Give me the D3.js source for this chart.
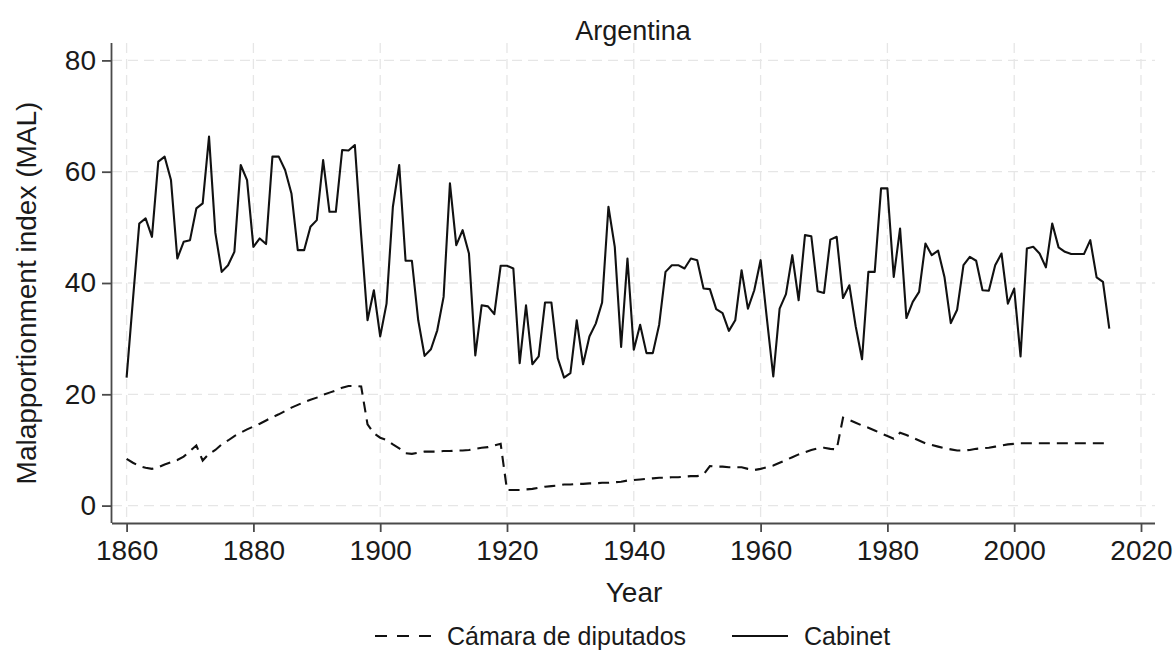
<!DOCTYPE html>
<html>
<head>
<meta charset="utf-8">
<script src="https://cdn.jsdelivr.net/npm/d3@7"></script>
<style>
  html, body { margin: 0; padding: 0; background: #fff; }
  svg { display: block; font-family: "Liberation Sans", Arial, Helvetica, sans-serif; }
</style>
</head>
<body>
<svg id="chart" width="1176" height="658"></svg>
<script>
// Malapportionment index (MAL), Argentina, 1860–2015

const years = d3.range(1860, 2016);

// Cabinet MAL by year
const cabinet = [
  23.0, 37.0, 50.7, 51.6, 48.3, 61.8, 62.7, 58.5, 44.4, 47.4,   // 1860–1869
  47.7, 53.4, 54.3, 66.3, 49.0, 42.0, 43.2, 45.6, 61.2, 58.5,   // 1870–1879
  46.5, 48.0, 47.0, 62.7, 62.7, 60.3, 56.1, 45.9, 45.9, 50.1,   // 1880–1889
  51.3, 62.1, 52.8, 52.8, 63.9, 63.8, 64.8, 48.5, 33.3, 38.7,   // 1890–1899
  30.4, 36.3, 53.7, 61.2, 44.0, 44.0, 33.3, 26.9, 28.1, 31.5,   // 1900–1909
  37.5, 57.9, 46.8, 49.5, 45.3, 27.0, 36.0, 35.8, 34.4, 43.1,   // 1910–1919
  43.1, 42.6, 25.6, 36.0, 25.4, 26.8, 36.5, 36.5, 26.5, 23.0,   // 1920–1929
  23.8, 33.3, 25.4, 30.4, 32.7, 36.5, 53.7, 46.5, 28.5, 44.4,   // 1930–1939
  28.0, 32.5, 27.4, 27.4, 32.5, 42.0, 43.2, 43.2, 42.6, 44.4,   // 1940–1949
  44.1, 39.0, 38.9, 35.3, 34.6, 31.4, 33.3, 42.3, 35.4, 38.7,   // 1950–1959
  44.1, 33.5, 23.2, 35.4, 38.0, 45.0, 36.9, 48.6, 48.4, 38.5,   // 1960–1969
  38.2, 47.8, 48.3, 37.3, 39.6, 32.2, 26.3, 42.0, 42.0, 57.0,   // 1970–1979
  57.0, 41.1, 49.8, 33.7, 36.6, 38.4, 47.1, 45.0, 45.8, 41.1,   // 1980–1989
  32.8, 35.2, 43.2, 44.7, 44.0, 38.7, 38.6, 43.2, 45.3, 36.3,   // 1990–1999
  39.0, 26.8, 46.2, 46.5, 45.3, 42.8, 50.7, 46.4, 45.6, 45.2,   // 2000–2009
  45.2, 45.2, 47.7, 41.0, 40.2, 31.8                            // 2010–2015
];

// Cámara de diputados MAL by year
const camara = [
  8.4, 7.7, 7.1, 6.8, 6.6, 6.9, 7.4, 7.8, 8.2, 8.8,             // 1860–1869
  9.8, 10.8, 8.1, 9.3, 10.0, 11.0, 11.7, 12.5, 13.1, 13.7,      // 1870–1879
  14.2, 14.7, 15.3, 15.9, 16.4, 17.0, 17.6, 18.1, 18.6, 19.0,   // 1880–1889
  19.4, 19.9, 20.3, 20.7, 21.2, 21.5, 21.5, 21.4, 14.6, 13.0,   // 1890–1899
  12.2, 11.8, 11.0, 10.3, 9.4, 9.3, 9.5, 9.7, 9.7, 9.7,         // 1900–1909
  9.8, 9.8, 9.9, 9.9, 10.0, 10.2, 10.4, 10.5, 10.8, 11.1,       // 1910–1919
  2.8, 2.8, 2.8, 2.9, 3.0, 3.2, 3.4, 3.5, 3.6, 3.8,             // 1920–1929
  3.8, 3.9, 3.9, 4.0, 4.0, 4.1, 4.1, 4.2, 4.3, 4.5,             // 1930–1939
  4.6, 4.7, 4.8, 4.9, 5.0, 5.0, 5.1, 5.1, 5.2, 5.3,             // 1940–1949
  5.3, 5.6, 7.1, 7.0, 7.0, 6.9, 6.9, 6.9, 6.6, 6.4,             // 1950–1959
  6.6, 6.9, 7.2, 7.7, 8.2, 8.7, 9.2, 9.6, 10.0, 10.3,           // 1960–1969
  10.4, 10.2, 10.1, 15.8, 15.4, 14.9, 14.4, 14.0, 13.5, 13.0,   // 1970–1979
  12.5, 12.0, 13.1, 12.7, 12.2, 11.7, 11.2, 10.9, 10.6, 10.3,   // 1980–1989
  10.1, 9.9, 9.9, 10.0, 10.2, 10.3, 10.4, 10.6, 10.8, 11.0,     // 1990–1999
  11.1, 11.2, 11.2, 11.2, 11.2, 11.2, 11.2, 11.2, 11.2, 11.2,   // 2000–2009
  11.2, 11.2, 11.2, 11.2, 11.2, 11.2                            // 2010–2015
];

const xTicks = [1860, 1880, 1900, 1920, 1940, 1960, 1980, 2000, 2020];
const yTicks = [0, 20, 40, 60, 80];

const seriesNames = ["Cámara de diputados", "Cabinet"];
const titleText = "Argentina";
const xTitle = "Year";
const yTitle = "Malapportionment index (MAL)";

// ---- layout ----
const plot = { left: 112, right: 1155, top: 43, bottom: 523 };

const x = d3.scaleLinear().domain([1860, 2020]).range([126.6, 1141]);
const y = d3.scaleLinear().domain([0, 80]).range([505.6, 60.4]);

const svg = d3.select("#chart");
const axisColor = "#4a4a4a";
const textColor = "#1a1a1a";
const gridColor = "#e6e6e6";

// grid
const grid = svg.append("g");
grid.selectAll("line.gx").data(xTicks).join("line")
  .attr("x1", d => x(d)).attr("x2", d => x(d))
  .attr("y1", plot.top).attr("y2", plot.bottom)
  .attr("stroke", gridColor).attr("stroke-width", 1.3)
  .attr("stroke-dasharray", "10,6");
grid.selectAll("line.gy").data(yTicks).join("line")
  .attr("x1", plot.left).attr("x2", plot.right)
  .attr("y1", d => y(d)).attr("y2", d => y(d))
  .attr("stroke", gridColor).attr("stroke-width", 1.3)
  .attr("stroke-dasharray", "10,6");

// axes
const xAxis = d3.axisBottom(x).tickValues(xTicks).tickFormat(d3.format("d"))
  .tickSize(9).tickPadding(8);
const gx = svg.append("g").attr("transform", `translate(0,${plot.bottom})`).call(xAxis);
gx.select(".domain").attr("d", `M${plot.left},0.5H${plot.right}`);

const yAxis = d3.axisLeft(y).tickValues(yTicks).tickSize(10).tickPadding(6);
const gy = svg.append("g").attr("transform", `translate(${plot.left},0)`).call(yAxis);
gy.select(".domain").attr("d", `M-0.5,${plot.top}V${plot.bottom}`);

[gx, gy].forEach(g => {
  g.selectAll(".domain").attr("stroke", axisColor).attr("stroke-width", 1.8);
  g.selectAll(".tick line").attr("stroke", axisColor).attr("stroke-width", 1.8);
  g.selectAll(".tick text").attr("fill", textColor)
    .style("font-size", "28px").style("font-family", "Liberation Sans, Arial, sans-serif");
});

// lines
const line = d3.line().x((d, i) => x(years[i])).y(d => y(d));

svg.append("path").datum(camara)
  .attr("d", line).attr("fill", "none")
  .attr("stroke", "#111").attr("stroke-width", 2.1)
  .attr("stroke-dasharray", "11,7");

svg.append("path").datum(cabinet)
  .attr("d", line).attr("fill", "none")
  .attr("stroke", "#111").attr("stroke-width", 2.1)
  .attr("stroke-linejoin", "round");

// titles
svg.append("text").attr("x", 633).attr("y", 40)
  .attr("text-anchor", "middle").attr("fill", textColor)
  .style("font-size", "27px").text(titleText);

svg.append("text").attr("x", 634).attr("y", 602)
  .attr("text-anchor", "middle").attr("fill", textColor)
  .style("font-size", "28px").text(xTitle);

svg.append("text")
  .attr("transform", `translate(36,293) rotate(-90)`)
  .attr("text-anchor", "middle").attr("fill", textColor)
  .style("font-size", "28px").text(yTitle);

// legend
const legend = svg.append("g").attr("transform", "translate(0,636)");
const legendItems = [
  { name: seriesNames[0], x0: 375, dash: "12,10" },
  { name: seriesNames[1], x0: 732, dash: null }
];
legendItems.forEach(it => {
  legend.append("line")
    .attr("x1", it.x0).attr("x2", it.x0 + 56)
    .attr("y1", 0).attr("y2", 0)
    .attr("stroke", "#111").attr("stroke-width", 2.1)
    .attr("stroke-dasharray", it.dash);
  legend.append("text").attr("x", it.x0 + 72).attr("y", 9)
    .attr("fill", textColor).style("font-size", "25px").text(it.name);
});
</script>
</body>
</html>
